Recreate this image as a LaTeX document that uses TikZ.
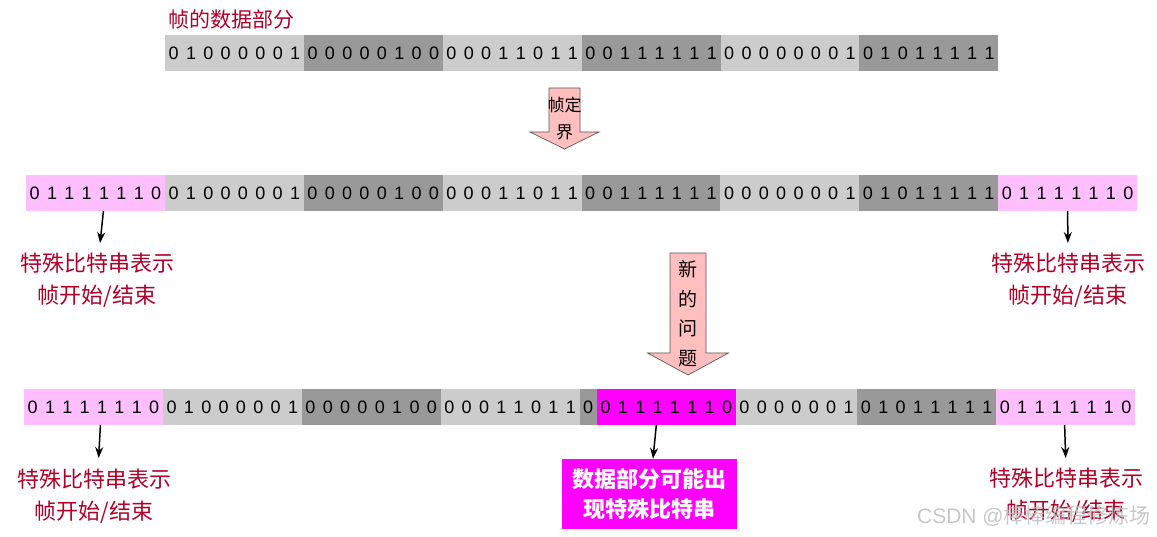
\documentclass[tikz,border=0pt]{standalone}
\usepackage{fontspec}
\setmainfont{Liberation Sans}
\newfontfamily\cjk{Noto Sans CJK SC}
\usetikzlibrary{calc,arrows.meta}
\definecolor{lg}{RGB}{204,204,204}
\definecolor{dg}{RGB}{153,153,153}
\definecolor{pk}{RGB}{255,191,255}
\definecolor{mg}{RGB}{255,0,255}
\definecolor{dred}{RGB}{176,0,40}
\definecolor{arrfill}{RGB}{255,191,191}
\definecolor{wm}{RGB}{190,190,190}
\newlength\cellw \setlength\cellw{17.36pt}
\def\bitsloop#1{\ifx#1\relax\else\makebox[\cellw]{#1}\expandafter\bitsloop\fi}
\newcommand\bitstr[1]{\bitsloop#1\relax}
\begin{document}
\begin{tikzpicture}[x=1pt,y=-1pt,
  seg/.style={anchor=west, minimum height=36pt, inner sep=0pt, outer sep=0pt,
              font=\fontsize{18}{18}\selectfont},
  lbl/.style={anchor=north, inner sep=0pt, align=center, text=dred,
              font=\cjk\fontsize{22}{32}\selectfont},
  blk/.style={fill=arrfill, draw=black!65, line width=0.7pt, line join=miter},
  arrtxt/.style={inner sep=0pt, align=center, text=black},
  ptr/.style={-{Stealth[length=11pt,width=8pt]}, line width=1.5pt, black}]
\useasboundingbox (0,0) rectangle (1157,537);

% title
\node[anchor=west, inner sep=0pt, text=dred, font=\cjk\fontsize{21}{21}\selectfont] (title) at (168,20) {帧的数据部分};

% row 1
\node[seg,fill=lg] (r1a) at (165,53.5) {\bitstr{01000001}};
\node[seg,fill=dg] (r1b) at (r1a.east) {\bitstr{00000100}};
\node[seg,fill=lg] (r1c) at (r1b.east) {\bitstr{00011011}};
\node[seg,fill=dg] (r1d) at (r1c.east) {\bitstr{00111111}};
\node[seg,fill=lg] (r1e) at (r1d.east) {\bitstr{00000001}};
\node[seg,fill=dg] (r1f) at (r1e.east) {\bitstr{01011111}};

% arrow 1
\draw[blk] (549,88) -- (580,88) -- (580,132) -- (599,132) -- (564.5,149) -- (530,132) -- (549,132) -- cycle;
\node[arrtxt, font=\cjk\fontsize{17}{27}\selectfont] (a1t) at (564.5,119) {帧定\\界};

% row 2
\node[seg,fill=pk] (r2a) at (26,193) {\bitstr{01111110}};
\node[seg,fill=lg] (r2b) at (r2a.east) {\bitstr{01000001}};
\node[seg,fill=dg] (r2c) at (r2b.east) {\bitstr{00000100}};
\node[seg,fill=lg] (r2d) at (r2c.east) {\bitstr{00011011}};
\node[seg,fill=dg] (r2e) at (r2d.east) {\bitstr{00111111}};
\node[seg,fill=lg] (r2f) at (r2e.east) {\bitstr{00000001}};
\node[seg,fill=dg] (r2g) at (r2f.east) {\bitstr{01011111}};
\node[seg,fill=pk] (r2h) at (r2g.east) {\bitstr{01111110}};

\node[lbl] (l2a) at (97,253) {特殊比特串表示\\帧开始/结束};
\node[lbl] (l2b) at (1068,253) {特殊比特串表示\\帧开始/结束};
\coordinate (s2a) at ([xshift=8pt]r2a.south);
\coordinate (s2b) at (r2h.south);
\draw[ptr, shorten >=10pt] (s2a) -- ([xshift=2pt]l2a.north);
\draw[ptr, shorten >=10pt] (s2b) -- (l2b.north);

% arrow 2
\draw[blk] (670,253) -- (706,253) -- (706,353) -- (728.5,353) -- (688,375) -- (647.5,353) -- (670,353) -- cycle;
\node[arrtxt, font=\cjk\fontsize{19}{29.5}\selectfont] (a2t) at (688,313.5) {新\\的\\问\\题};

% row 3
\node[seg,fill=pk] (r3a) at (24,407) {\bitstr{01111110}};
\node[seg,fill=lg] (r3b) at (r3a.east) {\bitstr{01000001}};
\node[seg,fill=dg] (r3c) at (r3b.east) {\bitstr{00000100}};
\node[seg,fill=lg] (r3d) at (r3c.east) {\bitstr{00011011}};
\node[seg,fill=dg] (r3e) at (r3d.east) {\bitstr{0}};
\node[seg,fill=mg] (r3f) at (r3e.east) {\bitstr{01111110}};
\node[seg,fill=lg] (r3g) at (r3f.east) {\bitstr{0000001}};
\node[seg,fill=dg] (r3h) at (r3g.east) {\bitstr{01011111}};
\node[seg,fill=pk] (r3i) at (r3h.east) {\bitstr{01111110}};

\node[lbl] (l3a) at (94,469) {特殊比特串表示\\帧开始/结束};
\node[lbl] (l3c) at (1066,468) {特殊比特串表示\\帧开始/结束};
\node[fill=mg, text=white, inner sep=0pt, minimum width=175pt, minimum height=70pt,
      align=center, font=\cjk\bfseries\fontsize{22}{30}\selectfont] (l3b) at (649.5,494) {数据部分可能出\\现特殊比特串};
\coordinate (s3a) at ([xshift=7pt]r3a.south);
\coordinate (s3b) at ([xshift=-10pt]r3f.south);
\coordinate (s3c) at ([xshift=-1pt]r3i.south);
\draw[ptr, shorten >=11pt] (s3a) -- ([xshift=4pt]l3a.north);
\draw[ptr] (s3b) -- ([xshift=3.5pt]l3b.north);
\draw[ptr, shorten >=10pt] (s3c) -- (l3c.north);

% watermark
\node[anchor=east, inner sep=0pt, text=wm, opacity=0.85, font=\fontsize{21}{21}\selectfont] (wmk) at (1151,516) {CSDN @{\cjk 棒棒编程修炼场}};
\end{tikzpicture}
\end{document}
